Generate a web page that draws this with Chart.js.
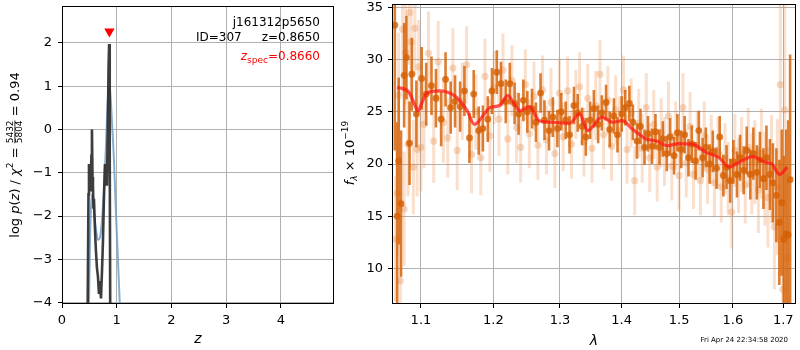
<!DOCTYPE html>
<html>
<head>
<meta charset="utf-8">
<script src="https://cdn.jsdelivr.net/npm/chart.js@4.4.1/dist/chart.umd.min.js"></script>
<style>
  body { margin:0; background:#fff; width:800px; height:350px; position:relative; overflow:hidden; }
  #pz { position:absolute; left:0; top:0; }
  #sp { position:absolute; left:332px; top:0; }
</style>
</head>
<body>
<canvas id="pz" width="340" height="350"></canvas>
<canvas id="sp" width="468" height="350"></canvas>
<script>
// p(z) panel
const zFit = [0.469,0.484,0.493,0.502,0.511,0.520,0.529,0.538,0.547,0.557,0.566,0.575,0.584,0.602,0.620,0.639,0.657,0.675,0.693,0.712,0.730,0.748,0.766,0.785,0.803,0.821,0.839,0.850,0.861,0.872,0.881];
const logpFit = [-4.1,-1.5,-0.8,-1.2,-0.9,-1.4,-1.0,-0.6,0.0,-1.1,-1.3,-1.8,-1.6,-2.3,-2.8,-3.2,-3.4,-3.8,-3.5,-3.9,-3.3,-2.6,-1.6,-0.8,-1.0,-1.3,0.2,1.4,1.97,-0.5,-4.1];
const zPrior = [0.493,0.511,0.529,0.547,0.566,0.584,0.620,0.657,0.693,0.730,0.766,0.803,0.830,0.858,0.885,0.912,0.949,0.985,1.022,1.058];
const logpPrior = [-4.1,-2.6,-1.8,-1.5,-1.6,-1.9,-2.3,-2.55,-2.5,-2.1,-1.4,-0.4,0.5,1.0,0.8,0.2,-0.7,-1.9,-3.0,-4.1];
const zSpec = [0.866];
const zSpecMark = [2.26];
const zTicks = [0,1,2,3,4];
const logpTicks = [-4,-3,-2,-1,0,1,2];

const objName = "j161312p5650";
const objId = "307";
const zBest = "0.8650";
const zSpecText = "0.8660";
const chi2Num = "5432", chi2Den = "5804", chi2Ratio = "0.94";

// spectrum panel
const lamA = [1.066,1.069,1.071,1.074,1.078,1.081,1.085,1.088,1.094,1.101,1.107,1.114,1.120,1.127,1.133,1.140,1.146,1.153,1.159,1.166,1.172,1.179,1.185,1.192,1.198,1.205,1.211,1.218,1.224,1.231,1.237,1.244,1.250,1.257,1.263,1.270,1.276,1.283,1.289,1.296,1.302,1.309,1.315,1.322,1.328,1.335,1.341,1.348,1.354,1.361,1.367,1.374,1.380,1.387,1.393,1.400,1.406,1.413,1.419,1.426,1.432,1.439,1.445,1.452,1.458,1.465,1.471,1.478,1.484,1.491,1.497,1.504,1.510,1.517,1.523,1.530,1.536,1.543,1.549,1.556,1.562,1.569,1.575,1.582,1.588,1.595,1.601,1.608,1.614,1.621,1.627,1.634,1.640,1.647,1.653,1.660,1.666,1.673,1.679,1.686,1.692,1.697,1.701,1.706,1.710,1.714];
const fluxA = [33.3,15.0,20.3,16.2,28.5,30.2,22.0,28.6,24.8,28.2,26.7,27.5,26.3,24.3,28.1,25.4,26.0,25.5,27.0,22.5,26.7,23.2,23.4,24.3,27.0,28.8,27.7,26.0,27.7,25.8,24.8,26.1,25.0,25.3,24.0,26.8,24.2,23.2,24.5,23.4,25.0,24.2,22.8,25.6,24.9,23.6,22.6,24.2,25.3,23.8,24.9,25.9,23.3,24.6,22.8,24.8,25.4,25.8,24.0,22.2,23.6,21.6,22.9,21.7,23.1,21.6,22.4,21.0,22.6,20.8,23.0,21.4,22.8,20.6,21.9,20.3,23.2,20.6,21.6,20.0,21.2,19.6,22.6,18.9,19.7,18.4,20.2,19.0,20.6,19.4,21.3,19.0,21.0,19.2,20.4,18.6,20.6,19.0,18.2,17.0,14.4,16.3,12.8,13.3,13.2,18.5];
const errA = [12,9,8,7,5,4,4,3.5,3.2,3,3,2.8,2.8,2.6,2.6,2.5,2.5,2.4,2.4,2.4,2.3,2.3,2.2,2.2,2.2,2.1,2.1,2.1,2.0,2.0,2.0,2.0,2.0,1.9,1.9,1.9,1.9,1.9,1.9,1.8,1.8,1.8,1.8,1.8,1.8,1.8,1.8,1.8,1.8,1.8,1.7,1.7,1.7,1.7,1.7,1.7,1.7,1.7,1.7,1.7,1.7,1.7,1.7,1.7,1.7,1.7,1.7,1.7,1.8,1.8,1.8,1.8,1.8,1.8,1.8,1.8,1.9,1.9,1.9,1.9,2.0,2.0,2.0,2.0,2.1,2.1,2.1,2.2,2.2,2.3,2.3,2.4,2.5,2.6,2.7,2.9,3.1,3.4,3.8,4.5,6,7,8,10,11,12];

const lamB = [1.067,1.069,1.071,1.073,1.076,1.078,1.080,1.083,1.085,1.087,1.090,1.092,1.095,1.097,1.100,1.104,1.110,1.117,1.123,1.130,1.136,1.143,1.149,1.156,1.162,1.169,1.175,1.182,1.188,1.195,1.201,1.208,1.214,1.221,1.227,1.234,1.240,1.247,1.253,1.260,1.266,1.273,1.279,1.286,1.292,1.299,1.305,1.312,1.318,1.325,1.331,1.338,1.344,1.351,1.357,1.364,1.370,1.377,1.383,1.390,1.396,1.403,1.409,1.416,1.422,1.429,1.435,1.442,1.448,1.455,1.461,1.468,1.474,1.481,1.487,1.494,1.500,1.507,1.513,1.520,1.526,1.533,1.539,1.546,1.552,1.559,1.565,1.572,1.578,1.585,1.591,1.598,1.604,1.611,1.617,1.624,1.630,1.637,1.643,1.650,1.656,1.663,1.669,1.676,1.682,1.688,1.694,1.699,1.703,1.708];
const fluxB = [12.8,17.2,26.6,8.8,32.9,15.7,30.7,21.9,34.5,31.7,19.7,33.0,21.4,29.3,21.6,23.8,30.6,22.2,29.8,24.0,22.5,29.2,21.3,26.0,29.5,20.9,25.0,20.6,28.4,22.7,27.3,24.3,29.0,22.4,28.0,23.5,21.6,27.6,22.9,26.5,21.8,27.1,22.3,25.9,21.0,26.8,22.6,27.0,21.9,25.7,27.4,22.1,26.3,21.5,25.6,28.6,22.8,26.1,21.7,25.2,23.2,27.1,21.4,24.9,18.4,23.9,21.5,25.4,20.6,23.8,19.7,23.0,21.2,24.6,19.8,22.7,18.9,25.4,20.1,23.6,19.0,21.8,18.4,22.7,19.5,21.4,18.2,21.1,17.8,20.5,18.6,15.4,21.3,18.9,20.9,18.0,21.6,19.1,20.2,17.5,21.0,18.6,16.8,19.5,14.0,17.8,27.6,8.0,25.2,11.0];
const errB = [6,6,6,6,6,5.5,5,5,5,5,4.5,4.5,4.5,4.5,4.2,4.2,4.0,4.0,3.9,3.9,3.8,3.8,3.8,3.7,3.7,3.7,3.6,3.6,3.6,3.5,3.5,3.5,3.5,3.4,3.4,3.4,3.4,3.4,3.3,3.3,3.3,3.3,3.3,3.3,3.3,3.3,3.3,3.3,3.3,3.3,3.3,3.3,3.3,3.3,3.3,3.3,3.3,3.3,3.3,3.3,3.3,3.3,3.3,3.3,3.3,3.3,3.3,3.3,3.3,3.3,3.3,3.3,3.3,3.3,3.3,3.3,3.3,3.3,3.3,3.3,3.3,3.3,3.3,3.3,3.3,3.3,3.3,3.4,3.4,3.4,3.5,3.5,3.5,3.6,3.6,3.7,3.8,3.9,4.0,4.1,4.3,4.5,4.8,5.2,6,6.5,8,7,10,8];

const lamModel = [1.069,1.084,1.090,1.096,1.102,1.108,1.125,1.148,1.162,1.173,1.185,1.195,1.209,1.221,1.230,1.239,1.253,1.268,1.288,1.315,1.331,1.344,1.367,1.385,1.401,1.418,1.442,1.460,1.479,1.500,1.524,1.550,1.574,1.593,1.606,1.621,1.638,1.665,1.677,1.692,1.708];
const fluxModel = [27.35,26.9,26.0,25.1,26.0,26.8,27.0,26.4,25.2,23.8,24.6,25.4,25.6,26.55,25.8,25.1,25.5,24.15,24.0,23.9,24.8,23.2,24.5,24.0,24.15,23.35,22.4,22.2,21.75,21.96,21.9,21.1,20.6,19.7,20.0,20.4,20.7,20.15,20.0,19.0,19.7];

const lamTicks = [1.1,1.2,1.3,1.4,1.5,1.6,1.7];
const fluxTicks = [10,15,20,25,30,35];
const stamp = "Fri Apr 24 22:34:58 2020";

const FONT = '"DejaVu Sans"';
const GRID = '#b0b0b0';
const DARK = 'rgba(214,96,4,0.82)';
const LIGHT_BAR = 'rgba(232,140,72,0.28)';
const LIGHT_DOT = 'rgba(232,140,72,0.33)';

Chart.defaults.font.family = FONT;
Chart.defaults.animation = false;

function pts(xs, ys) {
  return xs.map((x, i) => ({x: x, y: ys[i]}));
}
function errSegments(xs, ys, es) {
  const out = [];
  xs.forEach((x, i) => {
    out.push({x: x, y: ys[i] - es[i]}, {x: x, y: ys[i] + es[i]}, {x: x, y: null});
  });
  return out;
}
function fixedTicks(list) {
  return scale => { scale.ticks = list.map(v => ({value: v})); };
}
const minus = v => String(v).replace('-', '\u2212');

// keep chart area where we want it: no room reserved for overhanging labels
function fitY(w) {
  return s => { s.width = w; s.paddingTop = 0; s.paddingBottom = 0; };
}
function fitX(h) {
  return s => { s.height = h; s.paddingLeft = 0; s.paddingRight = 0; };
}

function axis(extra, tickExtra) {
  return Object.assign({
    grid: {color: GRID, lineWidth: 1, tickColor: '#000', tickLength: 4},
    border: {display: false},
    ticks: Object.assign({color: '#000', font: {size: 13}, autoSkip: false, maxRotation: 0, includeBounds: false}, tickExtra)
  }, extra);
}

// draw a run of [text, font, dy] pieces starting at x
function drawRun(ctx, parts, x, y) {
  parts.forEach(p => {
    ctx.font = p[1];
    ctx.fillText(p[0], x, y + (p[2] || 0));
    x += ctx.measureText(p[0]).width;
  });
  return x;
}
function runWidth(ctx, parts) {
  let w = 0;
  parts.forEach(p => { ctx.font = p[1]; w += ctx.measureText(p[0]).width; });
  return w;
}
function frame(ctx, a) {
  ctx.strokeStyle = '#000';
  ctx.lineWidth = 1;
  ctx.strokeRect(Math.round(a.left) + 0.5, Math.round(a.top) + 0.5,
    Math.round(a.right - a.left) - 1, Math.round(a.bottom - a.top) - 1);
}

const leftDeco = {
  id: 'leftDeco',
  afterDraw(chart) {
    const ctx = chart.ctx, a = chart.chartArea;
    ctx.save();
    frame(ctx, a);
    ctx.fillStyle = '#000';
    ctx.textBaseline = 'alphabetic';
    ctx.font = '12px ' + FONT;
    ctx.textAlign = 'right';
    ctx.fillText(objName, 320, 26);
    ctx.fillText('z=' + zBest, 320, 41);
    ctx.textAlign = 'left';
    ctx.fillText('ID=' + objId, 196, 41);
    // z_spec
    ctx.fillStyle = '#ff0000';
    const zs = [['z', 'italic 12px ' + FONT, 0], ['spec', '9px ' + FONT, 3], ['=' + zSpecText, '12px ' + FONT, 0]];
    drawRun(ctx, zs, 320 - runWidth(ctx, zs), 60);
    // x title
    ctx.fillStyle = '#000';
    ctx.font = 'italic 14px ' + FONT;
    ctx.textAlign = 'center';
    ctx.textBaseline = 'middle';
    ctx.fillText('z', (a.left + a.right) / 2, 339);
    // y title
    ctx.translate(14, 155);
    ctx.rotate(-Math.PI / 2);
    ctx.textAlign = 'left';
    ctx.textBaseline = 'alphabetic';
    const f13 = '13px ' + FONT, fi = 'italic 13px ' + FONT, f9 = '9px ' + FONT;
    const head = [['log ', f13], ['p', fi], ['(', f13], ['z', fi], [') / ', f13], ['\u03c7', fi], ['2', f9, -6], [' = ', f13]];
    const tail = [[' = ' + chi2Ratio, f13]];
    ctx.font = f9;
    const fw = Math.max(ctx.measureText(chi2Num).width, ctx.measureText(chi2Den).width);
    const total = runWidth(ctx, head) + fw + runWidth(ctx, tail);
    let x = -total / 2;
    x = drawRun(ctx, head, x, 5);
    ctx.font = f9;
    ctx.textAlign = 'center';
    ctx.fillText(chi2Num, x + fw / 2, -1);
    ctx.fillText(chi2Den, x + fw / 2, 8);
    ctx.fillRect(x, 0.5, fw, 0.8);
    ctx.textAlign = 'left';
    drawRun(ctx, tail, x + fw, 5);
    ctx.restore();
  }
};

const rightDeco = {
  id: 'rightDeco',
  afterDraw(chart) {
    const ctx = chart.ctx, a = chart.chartArea;
    ctx.save();
    frame(ctx, a);
    ctx.fillStyle = '#000';
    ctx.font = 'italic 14px ' + FONT;
    ctx.textAlign = 'center';
    ctx.textBaseline = 'middle';
    ctx.fillText('\u03bb', (a.left + a.right) / 2, 341);
    ctx.font = '7px ' + FONT;
    ctx.textAlign = 'right';
    ctx.textBaseline = 'alphabetic';
    ctx.fillText(stamp, 456, 342);
    // y title
    ctx.translate(18, 153);
    ctx.rotate(-Math.PI / 2);
    ctx.textAlign = 'left';
    const f13 = '13px ' + FONT, fi = 'italic 13px ' + FONT, f9 = 'italic 9px ' + FONT, f9n = '9px ' + FONT;
    const parts = [['f', fi], ['\u03bb', f9, 3], [' \u00d7 10', f13], ['\u221219', f9n, -6]];
    drawRun(ctx, parts, -runWidth(ctx, parts) / 2, 4);
    ctx.restore();
  }
};

new Chart(document.getElementById('pz'), {
  type: 'scatter',
  data: {
    datasets: [
      {data: pts(zSpec, zSpecMark), pointStyle: 'triangle', rotation: 180, pointRadius: 6,
       backgroundColor: '#ff0000', borderColor: '#ff0000', borderWidth: 0, order: 0, clip: false},
      {data: pts(zFit, logpFit), showLine: true, pointRadius: 0, borderColor: 'rgba(45,45,45,0.92)',
       borderWidth: 2.6, tension: 0, order: 1, clip: 0},
      {data: pts(zPrior, logpPrior), showLine: true, pointRadius: 0, borderColor: 'rgba(110,160,205,0.85)',
       borderWidth: 2, cubicInterpolationMode: 'monotone', order: 2, clip: 0}
    ]
  },
  options: {
    responsive: false,
    layout: {padding: {top: 3, right: 6, left: 0, bottom: 0}},
    plugins: {legend: {display: false}, tooltip: {enabled: false}},
    scales: {
      x: axis({type: 'linear', min: 0, max: 4.97, afterBuildTicks: fixedTicks(zTicks), afterFit: fitX(46)},
        {padding: 5}),
      y: axis({type: 'linear', min: -4.03, max: 2.85, afterBuildTicks: fixedTicks(logpTicks), afterFit: fitY(62)},
        {padding: 6, callback: v => minus(v)})
    }
  },
  plugins: [leftDeco]
});
new Chart(document.getElementById('sp'), {
  type: 'scatter',
  data: {
    datasets: [
      {data: pts(lamModel, fluxModel), showLine: true, pointRadius: 0, borderColor: 'rgba(255,20,20,0.72)',
       borderWidth: 3.2, cubicInterpolationMode: 'monotone', order: 0, clip: 0},
      {data: pts(lamA, fluxA), pointRadius: 3.4, backgroundColor: DARK, borderWidth: 0, order: 1, clip: 0},
      {data: errSegments(lamA, fluxA, errA), showLine: true, spanGaps: false, pointRadius: 0,
       borderColor: DARK, borderWidth: 2.6, order: 2, clip: 0},
      {data: pts(lamB, fluxB), pointRadius: 3.6, backgroundColor: LIGHT_DOT, borderWidth: 0, order: 3, clip: 0},
      {data: errSegments(lamB, fluxB, errB), showLine: true, spanGaps: false, pointRadius: 0,
       borderColor: LIGHT_BAR, borderWidth: 3, order: 4, clip: 0}
    ]
  },
  options: {
    responsive: false,
    layout: {padding: {top: 3, right: 3, left: 0, bottom: 0}},
    plugins: {legend: {display: false}, tooltip: {enabled: false}},
    scales: {
      x: axis({type: 'logarithmic', min: 1.0624, max: 1.7262, afterBuildTicks: fixedTicks(lamTicks), afterFit: fitX(46)},
        {padding: 5, callback: v => Number(v).toFixed(1)}),
      y: axis({type: 'linear', min: 6.59, max: 35.33, afterBuildTicks: fixedTicks(fluxTicks), afterFit: fitY(60)},
        {padding: 5})
    }
  },
  plugins: [rightDeco]
});
</script>
</body>
</html>
